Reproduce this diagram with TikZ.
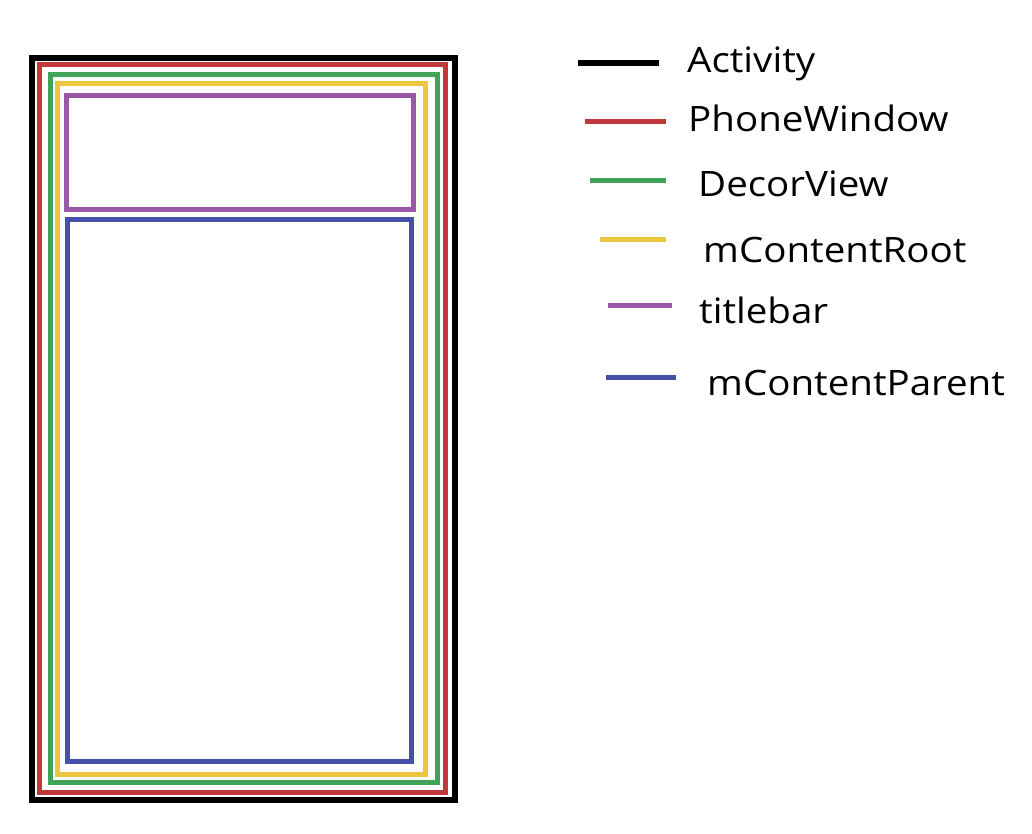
\documentclass[tikz,border=0pt]{standalone}
\usepackage{fontspec}
\setmainfont{Open Sans}[FakeStretch=1.1]
\definecolor{cblack}{HTML}{000000}
\definecolor{cred}{HTML}{C0383A}
\definecolor{cgreen}{HTML}{3FA35A}
\definecolor{cyellow}{HTML}{EBC740}
\definecolor{cpurple}{HTML}{9A57A6}
\definecolor{cblue}{HTML}{4551A8}
\tikzset{
  frame/.style={line width=5pt},
  legline/.style={line width=5pt},
  legtext/.style={anchor=base west, inner sep=0pt, font=\fontsize{35}{40}\selectfont, text=black}
}
\begin{document}
\begin{tikzpicture}[x=1pt,y=-1pt]
\useasboundingbox[fill=white] (0,0) rectangle (1032,834);
% nested frames
\draw[frame, cblack, line width=6pt] (32,58) rectangle (455,800);
\draw[frame, cred] (39,65) rectangle (445,792);
\draw[frame, cgreen] (50,75) rectangle (437,782);
\draw[frame, cyellow] (57,84) rectangle (425,774);
\draw[frame, cpurple] (66,96) rectangle (413,210);
\draw[frame, cblue] (67,220) rectangle (411,761);
% legend
\coordinate (l1a) at (578,63);  \coordinate (l1b) at (659,63);
\coordinate (l2a) at (585,122); \coordinate (l2b) at (666,122);
\coordinate (l3a) at (590,181); \coordinate (l3b) at (666,181);
\coordinate (l4a) at (600,239); \coordinate (l4b) at (666,239);
\coordinate (l5a) at (608,305); \coordinate (l5b) at (672,305);
\coordinate (l6a) at (606,377); \coordinate (l6b) at (676,377);
\draw[legline, cblack, line width=5.5pt] (l1a) -- (l1b);
\draw[legline, cred] (l2a) -- (l2b);
\draw[legline, cgreen] (l3a) -- (l3b);
\draw[legline, cyellow] (l4a) -- (l4b);
\draw[legline, cpurple] (l5a) -- (l5b);
\draw[legline, cblue] (l6a) -- (l6b);
\node[legtext] (t1) at (687,73) {Activity};
\node[legtext] (t2) at (688,132) {PhoneWindow};
\node[legtext] (t3) at (698,197) {DecorView};
\node[legtext] (t4) at (703,262) {mContentRoot};
\node[legtext] (t5) at (699,323) {titlebar};
\node[legtext] (t6) at (707,395) {mContentParent};
\end{tikzpicture}
\end{document}
